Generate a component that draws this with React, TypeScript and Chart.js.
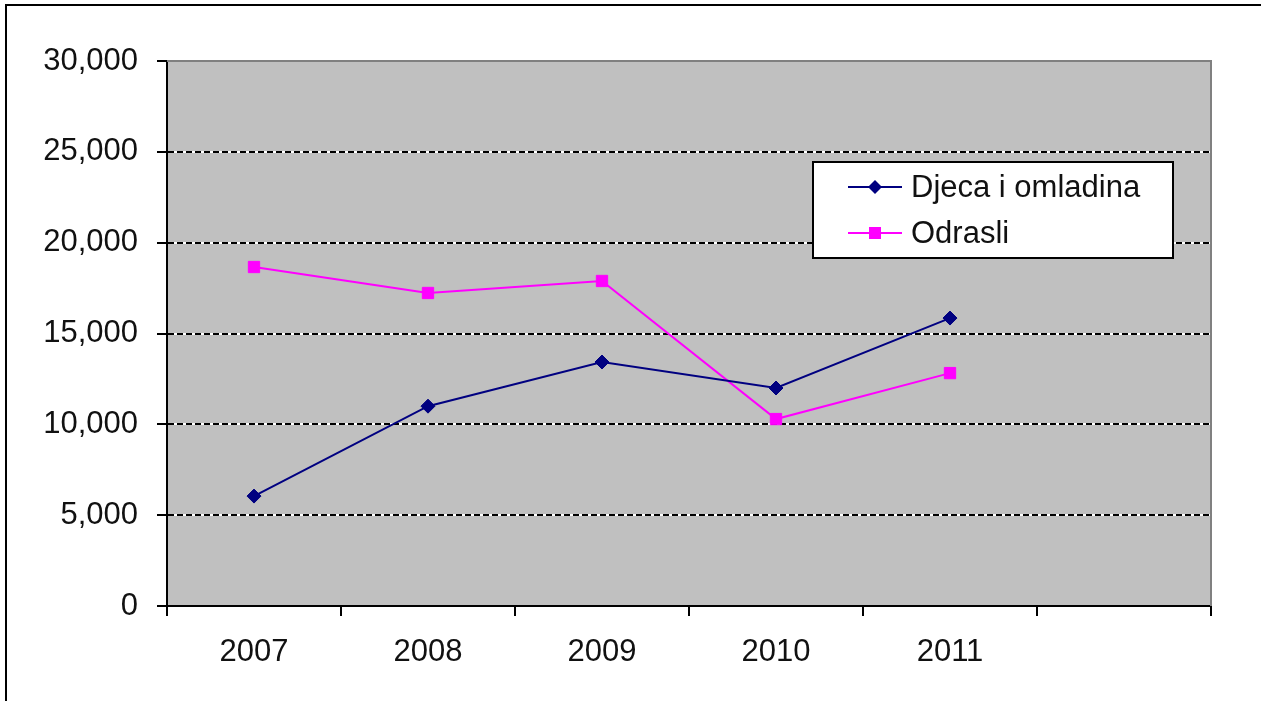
import React, { useEffect, useRef } from 'react';
import { Chart, registerables } from 'chart.js';

Chart.register(...registerables);

const categories: string[] = ['2007', '2008', '2009', '2010', '2011', ''];
const djecaValues: (number | null)[] = [6050, 11000, 13430, 12000, 15850, null];
const odrasliValues: (number | null)[] = [18660, 17230, 17890, 10290, 12820, null];
const seriesNames: string[] = ['Djeca i omladina', 'Odrasli'];
const seriesColors: string[] = ['#000080', '#FF00FF'];
const yMin = 0;
const yMax = 30000;
const yStep = 5000;

const FONT = '"Liberation Sans", Arial, sans-serif';
const FONT_SIZE = 31;
const TEXT_COLOR = '#111111';

const decorPlugin = {
  id: 'excelDecor',
  beforeDraw(chart: any) {
    const { ctx, chartArea } = chart;
    const { left, top, right, bottom } = chartArea;
    ctx.save();
    ctx.fillStyle = '#ffffff';
    ctx.fillRect(0, 0, chart.width, chart.height);
    // outer frame
    ctx.strokeStyle = '#000000';
    ctx.lineWidth = 2;
    ctx.strokeRect(6, 5, chart.width + 20, chart.height + 20);
    // plot background
    ctx.fillStyle = '#C0C0C0';
    ctx.fillRect(left, top, right - left, bottom - top);
    // white underlay for dashed gridlines
    const y = chart.scales.y;
    ctx.strokeStyle = '#ffffff';
    ctx.lineWidth = 2;
    for (const t of y.ticks) {
      if (t.value === yMin || t.value === yMax) continue;
      const p = Math.round(y.getPixelForValue(t.value) - 1) + 1;
      ctx.beginPath();
      ctx.moveTo(left, p);
      ctx.lineTo(right, p);
      ctx.stroke();
    }
    ctx.restore();
  },
  afterDatasetsDraw(chart: any) {
    const { ctx, chartArea } = chart;
    const { left, top, right, bottom } = chartArea;
    ctx.save();
    ctx.strokeStyle = '#808080';
    ctx.lineWidth = 2;
    ctx.beginPath();
    ctx.moveTo(left, top);
    ctx.lineTo(right, top);
    ctx.lineTo(right, bottom);
    ctx.stroke();
    ctx.restore();
  },
  afterDraw(chart: any) {
    const { ctx } = chart;
    const bx = 813, by = 162, bw = 360, bh = 96;
    ctx.save();
    ctx.fillStyle = '#ffffff';
    ctx.fillRect(bx, by, bw, bh);
    ctx.strokeStyle = '#000000';
    ctx.lineWidth = 2;
    ctx.strokeRect(bx, by, bw, bh);
    const rows = [187, 233];
    chart.data.datasets.forEach((ds: any, i: number) => {
      const cy = rows[i];
      ctx.strokeStyle = ds.borderColor;
      ctx.lineWidth = 2;
      ctx.beginPath();
      ctx.moveTo(848, cy);
      ctx.lineTo(902, cy);
      ctx.stroke();
      ctx.fillStyle = ds.borderColor;
      if (ds.pointStyle === 'rectRot') {
        const r = 7;
        ctx.beginPath();
        ctx.moveTo(875, cy - r);
        ctx.lineTo(875 + r, cy);
        ctx.lineTo(875, cy + r);
        ctx.lineTo(875 - r, cy);
        ctx.closePath();
        ctx.fill();
      } else {
        ctx.fillRect(869, cy - 6, 12, 12);
      }
      ctx.fillStyle = TEXT_COLOR;
      ctx.font = `${FONT_SIZE}px ${FONT}`;
      ctx.textBaseline = 'middle';
      ctx.textAlign = 'left';
      ctx.fillText(ds.label, 911, cy + 1);
    });
    ctx.restore();
  },
};

export default function App() {
  const canvasRef = useRef<HTMLCanvasElement | null>(null);

  useEffect(() => {
    if (!canvasRef.current) return;
    const chart = new Chart(canvasRef.current, {
      type: 'line',
      data: {
        labels: categories,
        datasets: [
          {
            label: seriesNames[0],
            data: djecaValues,
            borderColor: seriesColors[0],
            backgroundColor: seriesColors[0],
            borderWidth: 2,
            pointStyle: 'rectRot',
            pointRadius: 7,
            pointBorderWidth: 1,
            tension: 0,
          },
          {
            label: seriesNames[1],
            data: odrasliValues,
            borderColor: seriesColors[1],
            backgroundColor: seriesColors[1],
            borderWidth: 2,
            pointStyle: 'rect',
            pointRadius: 8,
            pointBorderWidth: 1,
            tension: 0,
          },
        ],
      },
      options: {
        responsive: false,
        animation: false,
        devicePixelRatio: 1,
        layout: { padding: { top: 61, right: 50, left: 0, bottom: 0 } },
        plugins: {
          legend: { display: false },
          tooltip: { enabled: false },
          title: { display: false },
        },
        scales: {
          x: {
            type: 'category',
            offset: true,
            afterFit: (s: any) => {
              s.height = 95;
            },
            grid: {
              offset: true,
              drawOnChartArea: false,
              drawTicks: true,
              tickLength: 10,
              color: '#000000',
              lineWidth: 2,
            },
            border: { display: true, color: '#000000', width: 2 },
            ticks: {
              color: TEXT_COLOR,
              font: { family: FONT, size: FONT_SIZE },
              padding: 18,
              maxRotation: 0,
              autoSkip: false,
            },
          },
          y: {
            min: yMin,
            max: yMax,
            afterFit: (s: any) => {
              s.width = 167;
            },
            grid: {
              drawOnChartArea: true,
              drawTicks: true,
              tickLength: 10,
              lineWidth: 2,
              color: (c: any) =>
                c.tick && (c.tick.value === yMin || c.tick.value === yMax) ? 'rgba(0,0,0,0)' : '#000000',
              tickColor: '#000000',
            },
            border: { display: true, color: '#000000', width: 2, dash: [6, 3] },
            ticks: {
              stepSize: yStep,
              color: TEXT_COLOR,
              font: { family: FONT, size: FONT_SIZE },
              padding: 19,
              callback: (v: any) => Number(v).toLocaleString('en-US'),
            },
          },
        },
      },
      plugins: [decorPlugin],
    });
    return () => chart.destroy();
  }, []);

  return (
    <div style={{ position: 'absolute', left: 0, top: 0, width: 1261, height: 701, overflow: 'hidden' }}>
      <canvas ref={canvasRef} width={1261} height={701} style={{ display: 'block' }} />
    </div>
  );
}
